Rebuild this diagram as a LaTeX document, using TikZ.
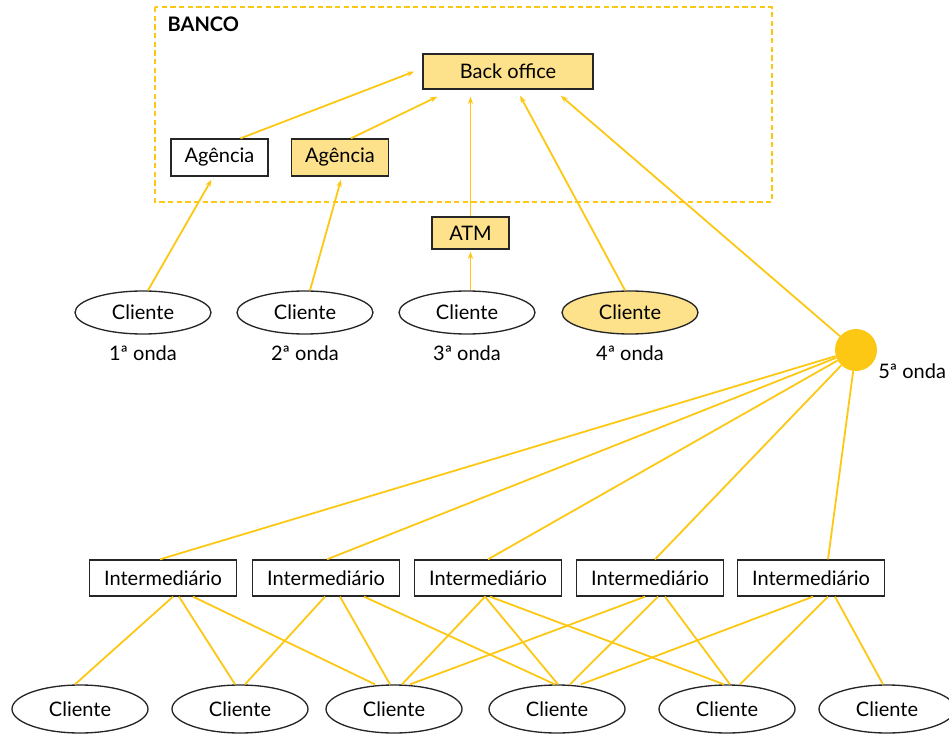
\documentclass[tikz,border=0pt]{standalone}
\usepackage{fontspec}
\setmainfont{Lato}
\usetikzlibrary{arrows.meta,calc,shapes.geometric}
\definecolor{gold}{HTML}{FCC813}
\definecolor{lightgold}{HTML}{FDE18B}

\begin{document}
\begin{tikzpicture}[x=0.75pt,y=-0.75pt,>={Stealth[length=5.5pt,width=4pt]},
  font=\fontsize{15}{17}\selectfont,
  box/.style={draw=black!85,line width=1pt,inner sep=0pt,minimum height=27pt},
  hot/.style={fill=lightgold},
  cli/.style={ellipse,draw=black!85,line width=1pt,inner sep=0pt,minimum width=102pt,minimum height=32.25pt},
  link/.style={draw=gold,line width=1.35pt}]
\useasboundingbox (0,0) rectangle (949,734);
% bank frame
\draw[gold,line width=1.8pt,dash pattern=on 4pt off 2.5pt] (155,7) rectangle (772,202);
\node[anchor=west,font=\fontsize{15}{17}\selectfont\bfseries] (banco) at (163,24) {BANCO};
\node[box,hot,minimum width=127.5pt,minimum height=26.25pt] (bo) at (508,71.5) {Back office};
\node[box,minimum width=72.75pt,minimum height=27.75pt] (ag1) at (219.5,157.5) {Agência};
\node[box,hot,minimum width=72.75pt,minimum height=27.75pt] (ag2) at (340,157.5) {Agência};
\node[box,hot,minimum width=57.75pt,minimum height=24pt] (atm) at (470.5,233) {ATM};
% waves
\node[cli] (w1) at (143,312.5) {Cliente};
\node[cli] (w2) at (305,312.5) {Cliente};
\node[cli] (w3) at (467,312.5) {Cliente};
\node[cli,hot] (w4) at (630,312.5) {Cliente};
\node (o1) at (143,353) {1ª onda};
\node (o2) at (305,353) {2ª onda};
\node (o3) at (467,353) {3ª onda};
\node (o4) at (630,353) {4ª onda};
\node[circle,fill=gold,inner sep=0pt,minimum size=31.5pt] (dot) at (856,350) {};
\node[anchor=west,inner sep=0pt] (o5) at (878,371) {5ª onda};
% arrows to the back office
\draw[link,->] ($(ag1.north)+(21,0)$) -- ($(bo.west)+(-8,0)$);
\draw[link,->] ($(ag2.north)+(11,0)$) -- ($(bo.south west)+(15,7)$);
\draw[link,->] (atm.north) -- ($(bo.south)+(-37.5,7)$);
\draw[link,->] ($(w4.north)+(-5,0)$) -- ($(bo.south)+(12,6)$);
\draw[link,->] (dot) -- ($(bo.south east)+(-33,6)$);
\draw[link,->] ($(w1.north)+(5,0)$) -- ($(ag1.south)+(-8,3)$);
\draw[link,->] ($(w2.north)+(5,0)$) -- ($(ag2.south)+(1,3)$);
\draw[link,->] ($(w3.north)+(3.5,0)$) -- ($(atm.south)+(0,2)$);
% intermediaries
\foreach \i/\x in {1/163,2/326,3/488,4/650,5/811}
  \node[box,minimum width=110.25pt] (i\i) at (\x,578) {Intermediário};
\foreach \i/\x in {1/80,2/240,3/394,4/557,5/727,6/887}
  \node[cli,minimum height=36pt] (c\i) at (\x,709) {Cliente};
\foreach \i/\d in {1/-3,2/1,3/0,4/5,5/17}
  \draw[link] (dot) -- ($(i\i.north)+(\d,0)$);
\foreach \a/\da/\b/\db in {1/10/1/-5,1/16/2/-5,1/30/3/-19,
    2/-1/2/5,2/14/3/-4,2/38/4/-2,
    3/-3/3/8,3/-3/4/1,3/2/5/-3,
    4/-5/3/16,4/8/4/13,4/15/5/3,
    5/2/4/24,5/17/5/13,5/24/6/-4}
  \draw[link] ($(i\a.south)+(\da,0)$) -- ($(c\b.north)+(\db,0)$);
\end{tikzpicture}
\end{document}
